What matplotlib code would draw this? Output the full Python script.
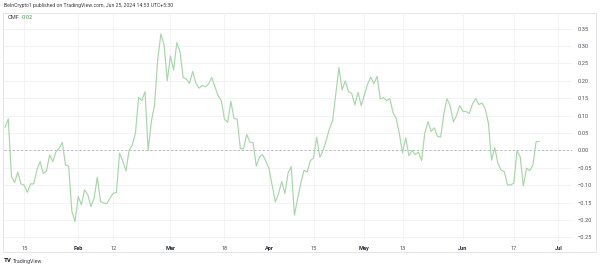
import numpy as np
import pandas as pd
import matplotlib
matplotlib.use("Agg")
import matplotlib.pyplot as plt
import matplotlib.dates as mdates

# ---- data ----
start_date = "2024-01-09"
cmf_values = [
    0.067, 0.091, -0.075, -0.092, -0.062, -0.096, -0.100, -0.120, -0.096, -0.096,
    -0.056, -0.032, -0.066, -0.059, -0.013, -0.032, -0.004, 0.006, 0.023, -0.042,
    -0.045, -0.175, -0.204, -0.132, -0.156, -0.113, -0.127, -0.161, -0.137, -0.077,
    -0.147, -0.151, -0.153, -0.137, -0.123, -0.121, -0.008, -0.030, -0.059, 0.000,
    0.016, 0.050, 0.153, 0.143, 0.169, 0.000, 0.083, 0.131, 0.260, 0.335,
    0.303, 0.200, 0.272, 0.231, 0.310, 0.284, 0.210, 0.205, 0.193, 0.227,
    0.193, 0.179, 0.187, 0.183, 0.191, 0.210, 0.183, 0.157, 0.143, 0.090,
    0.081, 0.141, 0.092, 0.090, 0.005, 0.005, 0.046, 0.024, 0.022, -0.045,
    -0.019, -0.012, -0.031, -0.052, -0.100, -0.148, -0.124, -0.089, -0.124, -0.065,
    -0.046, -0.186, -0.138, -0.095, -0.057, -0.062, -0.029, -0.022, 0.038, -0.019,
    0.000, 0.029, 0.062, 0.086, 0.162, 0.238, 0.174, 0.200, 0.169, 0.164,
    0.131, 0.167, 0.129, 0.159, 0.190, 0.211, 0.192, 0.213, 0.148, 0.152,
    0.143, 0.149, 0.109, 0.092, 0.048, -0.007, 0.036, -0.015, 0.000, -0.012,
    -0.005, -0.029, 0.050, 0.083, 0.055, 0.065, 0.040, 0.039, 0.106, 0.149,
    0.127, 0.082, 0.101, 0.129, 0.112, 0.112, 0.106, 0.134, 0.149, 0.132,
    0.136, 0.120, 0.079, -0.028, 0.008, -0.037, -0.056, -0.061, -0.099, -0.099,
    -0.094, -0.001, -0.018, -0.102, -0.051, -0.058, -0.042, 0.025, 0.026,
]
dates = pd.date_range(start_date, periods=len(cmf_values), freq="D")

tick_dates = ["2024-01-15", "2024-02-01", "2024-02-12", "2024-03-01", "2024-03-18",
              "2024-04-01", "2024-04-15", "2024-05-01", "2024-05-13", "2024-06-01",
              "2024-06-17", "2024-07-01"]
tick_labels = ["15", "Feb", "12", "Mar", "18", "Apr", "15", "May", "13", "Jun", "17", "Jul"]
month_labels = {"Feb", "Mar", "Apr", "May", "Jun", "Jul"}
y_ticks = [-0.25, -0.20, -0.15, -0.10, -0.05, 0.00, 0.05, 0.10, 0.15, 0.20, 0.25, 0.30, 0.35]

header = "BeInCrypto1 published on TradingView.com, Jun 25, 2024 14:53 UTC+5:30"
indicator_name = "CMF"
indicator_value = "0.02"

# ---- figure ----
W, H = 600, 268
plt.rcParams['font.family'] = ['Roboto', 'DejaVu Sans']
fig = plt.figure(figsize=(W / 100, H / 100), dpi=100)
fig.patch.set_facecolor("white")

def px_rect(x0, y0, x1, y1):
    return [x0 / W, 1 - y1 / H, (x1 - x0) / W, (y1 - y0) / H]

# pane border
border = fig.add_axes(px_rect(3, 12.5, 596, 252), zorder=0)
border.set_xticks([]); border.set_yticks([])
for s in border.spines.values():
    s.set_color("#e3e5ec"); s.set_linewidth(0.7)
border.patch.set_alpha(0)

ax = fig.add_axes(px_rect(3.5, 13, 572, 242), zorder=1)
ax.patch.set_alpha(0)
for s in ax.spines.values():
    s.set_visible(False)

x0 = pd.Timestamp("2024-01-15")
ax.set_xlim(mdates.date2num(x0 - pd.Timedelta(days=6.5)), mdates.date2num(x0 + pd.Timedelta(days=172.3)))
ax.set_ylim(-0.263, 0.395)

# grid
for yv in y_ticks:
    ax.axhline(yv, color="#f2f3f7", lw=0.7, zorder=0)
td = pd.to_datetime(tick_dates)
for d in td:
    ax.axvline(mdates.date2num(d), color="#f2f3f7", lw=0.7, zorder=0)

ax.axhline(0, color="#aeb1b9", lw=0.6, ls=(0, (2.5, 2.5)), zorder=1)
ax.plot(dates, cmf_values, color="#a6d8a7", lw=0.85, zorder=2)

ax.yaxis.tick_right()
ax.set_yticks(y_ticks)
ax.set_yticklabels([f"{v:.2f}".replace("-", "\u2212") for v in y_ticks])
ax.tick_params(axis="y", length=0, pad=4, labelsize=4.1, labelcolor="#50535e")

ax.set_xticks(mdates.date2num(td))
ax.set_xticklabels(tick_labels)
ax.tick_params(axis="x", length=0, pad=3, labelsize=4.1, labelcolor="#50535e")
for lbl in ax.get_xticklabels():
    if lbl.get_text() in month_labels:
        lbl.set_fontweight("bold")
        lbl.set_color("#2a2e39")

# texts
fig.text(4 / W, 1 - 6 / H, header, fontsize=3.7, color="#3b3f4a", va="center", ha="left")
fig.text(7.5 / W, 1 - 17.5 / H, indicator_name, fontsize=4.1, color="#3b3f4a", va="center", ha="left")
fig.text(21.5 / W, 1 - 17.5 / H, indicator_value, fontsize=4.1, color="#43a047", va="center", ha="left")
fig.text(4 / W, 1 - 261 / H, "TV", fontsize=4.4, color="#131722", fontweight="bold", va="center", ha="left")
fig.text(12.5 / W, 1 - 261 / H, "TradingView", fontsize=3.8, color="#3b3f4a", va="center", ha="left")

fig.savefig("out.png", dpi=100, facecolor="white")
